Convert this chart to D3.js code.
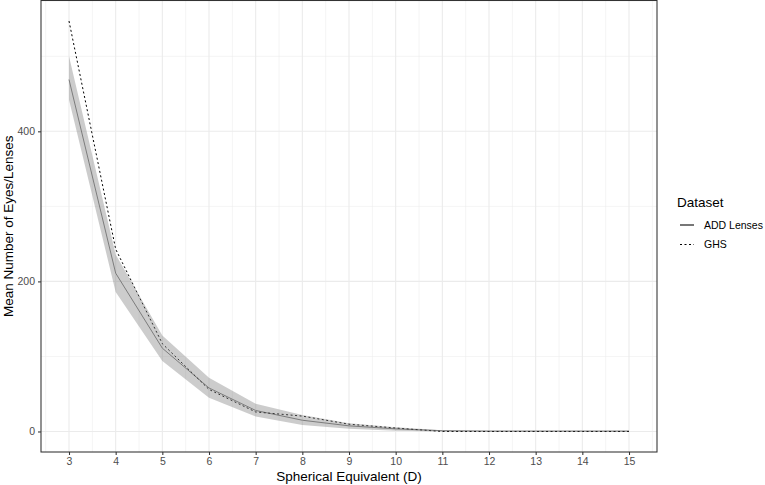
<!DOCTYPE html>
<html><head><meta charset="utf-8">
<script src="https://cdn.jsdelivr.net/npm/d3@7"></script>
<style>
body{margin:0;background:#fff;}
text{font-family:"Liberation Sans",Arial,sans-serif;}
</style></head>
<body><svg id="c" width="765" height="485"></svg>
<script>
const se = [3,4,5,6,7,8,9,10,11,12,13,14,15];
const addMean = [469,211,111,58,28,15,7.5,3.5,1,0.5,0.5,0.5,0.5];
const addLow  = [442,186,94,45,20,8.5,3.5,1,0,0,0,0,0];
const addHigh = [500,236,128,71.5,37,22,11,5.5,1.5,1,1,1,1];
const ghs     = [547,243,117,56,26,20.5,9.7,4.6,0,0,0,0,0];
const xTicks = [3,4,5,6,7,8,9,10,11,12,13,14,15];
const yTicks = [0,200,400];
const legendLabels = ["ADD Lenses","GHS"];

const svg = d3.select("#c");
const L=41, R=657, T=0.5, B=452;
const x = d3.scaleLinear().domain([2.4,15.6]).range([L,R]);
const y = d3.scaleLinear().domain([-27.35,574.35]).range([B,T]);

const g = svg.append("g");
const xMinor = d3.range(2.5,15.6,1);
const yMinor = [100,300,500];
g.selectAll(".xm").data(xMinor).enter().append("line")
  .attr("x1",d=>x(d)).attr("x2",d=>x(d)).attr("y1",T).attr("y2",B)
  .attr("stroke","#ebebeb").attr("stroke-width",0.55);
g.selectAll(".ym").data(yMinor).enter().append("line")
  .attr("y1",d=>y(d)).attr("y2",d=>y(d)).attr("x1",L).attr("x2",R)
  .attr("stroke","#ebebeb").attr("stroke-width",0.55);
g.selectAll(".xg").data(xTicks).enter().append("line")
  .attr("x1",d=>x(d)).attr("x2",d=>x(d)).attr("y1",T).attr("y2",B)
  .attr("stroke","#ebebeb").attr("stroke-width",1.07);
g.selectAll(".yg").data(yTicks).enter().append("line")
  .attr("y1",d=>y(d)).attr("y2",d=>y(d)).attr("x1",L).attr("x2",R)
  .attr("stroke","#ebebeb").attr("stroke-width",1.07);

const idx = d3.range(se.length);
const line = arr => d3.line().x(i=>x(se[i])).y(i=>y(arr[i]))(idx);
g.append("path").attr("d",line(addMean)).attr("fill","none").attr("stroke","#7a7a7a").attr("stroke-width",1);
g.append("path").attr("d",line(ghs)).attr("fill","none").attr("stroke","#000").attr("stroke-width",1).attr("stroke-dasharray","2,2.5");
const area = d3.area().x(i=>x(se[i])).y0(i=>y(addLow[i])).y1(i=>y(addHigh[i]));
g.append("path").attr("d",area(idx)).attr("fill","#7f7f7f").attr("fill-opacity",0.4);

g.append("rect").attr("x",L).attr("y",T).attr("width",R-L).attr("height",B-T)
  .attr("fill","none").attr("stroke","#333").attr("stroke-width",1.07);

const xa = svg.append("g").attr("transform",`translate(0,${B})`)
  .call(d3.axisBottom(x).tickValues(xTicks).tickSize(3).tickPadding(3).tickFormat(d3.format("d")));
const ya = svg.append("g").attr("transform",`translate(${L},0)`)
  .call(d3.axisLeft(y).tickValues(yTicks).tickSize(3).tickPadding(3).tickFormat(d3.format("d")));
[xa,ya].forEach(a=>{
  a.select(".domain").remove();
  a.selectAll(".tick line").attr("stroke","#333").attr("stroke-width",1.07);
  a.selectAll(".tick text").attr("fill","#4d4d4d").style("font-size","10.5px").style("font-family","Liberation Sans, Arial, sans-serif");
});

svg.append("text").attr("x",(L+R)/2).attr("y",481).attr("text-anchor","middle")
  .style("font-size","13.5px").attr("fill","#000").text("Spherical Equivalent (D)");
svg.append("text").attr("transform",`translate(13,${(T+B)/2}) rotate(-90)`).attr("text-anchor","middle")
  .style("font-size","13.5px").attr("fill","#000").text("Mean Number of Eyes/Lenses");

const lg = svg.append("g");
lg.append("text").attr("x",677).attr("y",207).style("font-size","13.5px").text("Dataset");
const dashes = [null,"2,2.5"];
legendLabels.forEach((lab,i)=>{
  const yy = 225 + i*19.5;
  lg.append("line").attr("x1",680).attr("x2",694).attr("y1",yy).attr("y2",yy)
    .attr("stroke","#000").attr("stroke-width",1.07).attr("stroke-dasharray",dashes[i]);
  lg.append("text").attr("x",704).attr("y",yy+3.8).style("font-size","10.5px").text(lab);
});
</script></body></html>
